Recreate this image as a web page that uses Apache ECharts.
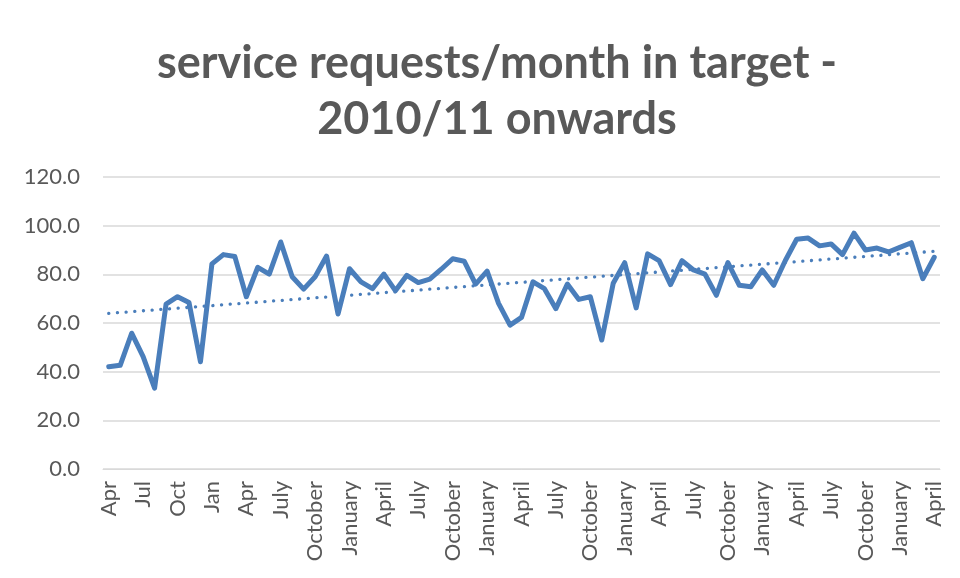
<!DOCTYPE html>
<html>
<head>
<meta charset="utf-8">
<script src="https://cdn.jsdelivr.net/npm/echarts@6/dist/echarts.min.js"></script>
<style>
  html, body { margin: 0; padding: 0; background: #fff; }
  #chart { width: 960px; height: 578px; }
</style>
</head>
<body>
<div id="chart"></div>
<script>
// months Apr 2010 .. Apr 2016 (first year abbreviated like the source sheet)
const monthsShort = ['Apr', 'May', 'Jun', 'Jul', 'Aug', 'Sep', 'Oct', 'Nov', 'Dec', 'Jan', 'Feb', 'Mar', 'Apr']
const monthsLong = ['May', 'June', 'July', 'August', 'September', 'October', 'November', 'December',
  'January', 'February', 'March', 'April']
const categories = monthsShort.concat(
  monthsLong, monthsLong, monthsLong, monthsLong, monthsLong
)

// % of service requests in target per month
const inTarget = [
  42.0, 42.6, 55.8, 46.2, 33.2, 67.8, 70.8, 68.4, 44.1, 84.3, 88.1, 87.3,
  70.8, 82.9, 80.1, 93.3, 79.0, 73.9, 79.0, 87.5, 63.7, 82.3, 76.9, 74.1,
  80.1, 73.3, 79.6, 76.6, 78.0, 82.1, 86.4, 85.4, 76.0, 81.3, 68.1, 59.1,
  62.3, 76.9, 74.1, 65.9, 76.0, 69.7, 70.8, 53.0, 76.3, 84.8, 66.2, 88.4,
  85.6, 75.8, 85.6, 81.8, 80.1, 71.4, 84.8, 75.5, 74.9, 81.8, 75.5, 85.6,
  94.4, 94.9, 91.7, 92.5, 88.1, 96.9, 90.0, 90.8, 89.2, 91.1, 93.0, 78.2,
  87.0
]

const yTicks = [0, 20, 40, 60, 80, 100, 120]

// linear trendline (least squares), like Excel's
function trendline(values) {
  const n = values.length
  let sx = 0, sy = 0, sxy = 0, sxx = 0
  values.forEach((v, i) => {
    sx += i; sy += v; sxy += i * v; sxx += i * i
  })
  const b = (n * sxy - sx * sy) / (n * sxx - sx * sx)
  const a = (sy - b * sx) / n
  return values.map((v, i) => +(a + b * i).toFixed(2))
}

const blue = '#4a7ebb'
const grey = '#595959'

const chart = echarts.init(document.getElementById('chart'))
chart.setOption({
  animation: false,
  title: {
    text: 'service requests/month in target -\n2010/11 onwards',
    left: 492,
    top: 30,
    textAlign: 'center',
    textStyle: {
      fontFamily: 'Lato',
      fontWeight: 'bold',
      fontSize: 45,
      lineHeight: 56,
      color: grey
    }
  },
  grid: {
    left: 103,
    right: 20,
    top: 177,
    bottom: 109
  },
  xAxis: {
    type: 'category',
    data: categories,
    boundaryGap: true,
    axisLine: { lineStyle: { color: '#d9d9d9', width: 1 } },
    axisTick: { show: false },
    axisLabel: {
      interval: 2,
      rotate: 90,
      margin: 12,
      color: grey,
      fontFamily: 'Lato',
      fontSize: 22
    }
  },
  yAxis: {
    type: 'value',
    min: yTicks[0],
    max: yTicks[yTicks.length - 1],
    interval: 20,
    axisLine: { show: false },
    axisTick: { show: false },
    axisLabel: {
      margin: 23,
      color: grey,
      fontFamily: 'Lato',
      fontSize: 22,
      formatter: v => v.toFixed(1)
    },
    splitLine: { lineStyle: { color: '#d9d9d9', width: 1.5 } }
  },
  series: [
    {
      name: 'in target',
      type: 'line',
      data: inTarget,
      showSymbol: false,
      lineStyle: { color: blue, width: 5, join: 'round', cap: 'round' }
    },
    {
      name: 'trend',
      type: 'line',
      data: trendline(inTarget),
      showSymbol: false,
      lineStyle: { color: blue, width: 3.3, type: [0.1, 8.6], cap: 'round' }
    }
  ]
})
</script>
</body>
</html>
